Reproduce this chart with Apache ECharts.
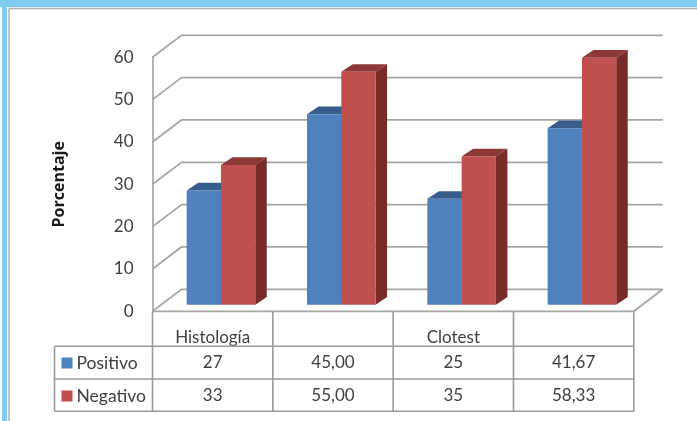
<!DOCTYPE html>
<html>
<head>
<meta charset="utf-8">
<style>
html,body{margin:0;padding:0;background:#fff;}
#chart{width:697px;height:421px;}
</style>
<script src="https://cdn.jsdelivr.net/npm/echarts@6/dist/echarts.min.js"></script>
</head>
<body>
<div id="chart"></div>
<script>
// Data
const categories = ['Histología', '', 'Clotest', ''];
const positivo = [27, 45.00, 25, 41.67];
const negativo = [33, 55.00, 35, 58.33];
const positivoLabels = ['27', '45,00', '25', '41,67'];
const negativoLabels = ['33', '55,00', '35', '58,33'];
const yTicks = [0, 10, 20, 30, 40, 50, 60];

// Oblique projection of the 3D box
const WALL_DX = 29, WALL_DY = -22;      // front plane to back wall
const BAR_DX = 8.3, BAR_DY = -6.6;      // front plane to bar front face
const BAR_DEPTH_X = 11.5, BAR_DEPTH_Y = -7.7;
const BAR_RATIO = 0.285;

const LINE = '#a6a6a6';
const TABLE_LINE = '#9a9a9a';
const TEXT = '#404040';
const FONT = 'Lato, "Open Sans", sans-serif';
const BLUE = {front: '#4f81bd', top: '#385d8a', side: '#2f5078'};
const RED = {front: '#c0504d', top: '#8c3836', side: '#772c2a'};

// Back wall gridlines with their diagonal on the left wall
function renderWall(params, api) {
  const v = api.value(0);
  const cs = params.coordSys;
  const left = api.coord([0, v])[1];
  const x0 = cs.x, x1 = cs.x + cs.width;
  const style = {stroke: LINE, lineWidth: 1.7, fill: null};
  const children = [{
    type: 'polyline',
    shape: {points: [[x0, left], [x0 + WALL_DX, left + WALL_DY], [x1 + WALL_DX, left + WALL_DY]]},
    style
  }];
  if (v === 0) {
    children.push({
      type: 'polyline',
      shape: {points: [[x1 + WALL_DX, left + WALL_DY], [x1, left], [x0, left]]},
      style
    });
  }
  return {type: 'group', children};
}

// Extruded bar: front face, top and side; side is -1 left of the band centre, 0 right of it
function barRenderer(colors, side) {
  return function (params, api) {
    const cat = api.value(0);
    const p = api.coord([cat, api.value(1)]);
    const base = api.coord([cat, 0]);
    const w = api.size([1, 0])[0] * BAR_RATIO;
    const x0 = p[0] + BAR_DX + side * w, x1 = x0 + w;
    const yTop = p[1] + BAR_DY, yBot = base[1] + BAR_DY;
    const dx = BAR_DEPTH_X, dy = BAR_DEPTH_Y;
    return {
      type: 'group',
      children: [
        {type: 'polygon', shape: {points: [[x1, yTop], [x1 + dx, yTop + dy], [x1 + dx, yBot + dy], [x1, yBot]]}, style: {fill: colors.side}},
        {type: 'polygon', shape: {points: [[x0, yTop], [x0 + dx, yTop + dy], [x1 + dx, yTop + dy], [x1, yTop]]}, style: {fill: colors.top}},
        {type: 'rect', shape: {x: x0, y: yTop, width: w, height: yBot - yTop}, style: {fill: colors.front}}
      ]
    };
  };
}

// Data table under the plot
const ROW_BOTTOMS = [346.3, 379, 411.3];
const TABLE_LEFT = 54.5;
function renderTable(params, api) {
  const cs = params.coordSys;
  const x0 = cs.x, x1 = cs.x + cs.width, top = cs.y + cs.height;
  const band = cs.width / categories.length;
  const style = {stroke: TABLE_LINE, lineWidth: 1.6};
  const line = (ax, ay, bx, by) => ({type: 'line', shape: {x1: ax, y1: ay, x2: bx, y2: by}, style});
  const children = [];
  ROW_BOTTOMS.forEach(y => children.push(line(TABLE_LEFT, y, x1, y)));
  for (let i = 0; i <= categories.length; i++) {
    const x = x0 + band * i;
    children.push(line(x, top, x, ROW_BOTTOMS[2]));
  }
  children.push(line(TABLE_LEFT, ROW_BOTTOMS[0], TABLE_LEFT, ROW_BOTTOMS[2]));
  [positivoLabels, negativoLabels].forEach((row, r) => {
    row.forEach((t, i) => {
      children.push({
        type: 'text',
        style: {
          x: api.coord([i, 0])[0], y: (ROW_BOTTOMS[r] + ROW_BOTTOMS[r + 1]) / 2,
          text: t, fill: TEXT, font: '17px ' + FONT, align: 'center', verticalAlign: 'middle'
        }
      });
    });
  });
  return {type: 'group', children};
}

const chart = echarts.init(document.getElementById('chart'), null, {renderer: 'canvas'});
chart.setOption({
  animation: false,
  backgroundColor: '#fff',
  graphic: [
    {type: 'rect', shape: {x: 0, y: 0, width: 697, height: 7}, style: {fill: '#7fcdf0'}, z: 0},
    {type: 'rect', shape: {x: 2, y: 0, width: 5, height: 421}, style: {fill: '#7fcdf0'}, z: 0},
    {type: 'line', shape: {x1: 9, y1: 8.5, x2: 697, y2: 8.5}, style: {stroke: '#b0b0b0', lineWidth: 1.5}, z: 0},
    {type: 'line', shape: {x1: 9, y1: 8.5, x2: 9, y2: 421}, style: {stroke: '#b0b0b0', lineWidth: 1.5}, z: 0}
  ],
  grid: {left: 152.5, top: 57.3, width: 481.3, height: 254},
  legend: {
    orient: 'vertical', left: 56.5, top: 349, itemWidth: 11, itemHeight: 11, itemGap: 15,
    data: [{name: 'Positivo'}, {name: 'Negativo'}],
    selectedMode: false,
    icon: 'rect',
    textStyle: {color: TEXT, fontFamily: FONT, fontSize: 17.5, padding: [0, 0, 0, -1]}
  },
  xAxis: {
    type: 'category', data: categories,
    axisLine: {show: false}, axisTick: {show: false},
    axisLabel: {interval: 0, color: TEXT, fontFamily: FONT, fontSize: 17, margin: 18}
  },
  yAxis: {
    type: 'value', min: 0, max: 60, interval: 10,
    name: 'Porcentaje', nameLocation: 'middle', nameGap: 85, nameRotate: 90,
    nameTextStyle: {color: '#1a1a1a', fontFamily: '"Open Sans", sans-serif', fontSize: 16, fontWeight: 'bold'},
    axisLine: {show: true, lineStyle: {color: LINE, width: 1.7}},
    axisTick: {show: false},
    splitLine: {show: false},
    axisLabel: {color: TEXT, fontFamily: FONT, fontSize: 17, margin: 19}
  },
  series: [
    {type: 'custom', name: 'Muro', silent: true, z: 1, renderItem: renderWall, data: yTicks.map(v => [v]), encode: {y: 0}, clip: false},
    {type: 'custom', name: 'Tabla', silent: true, z: 1, renderItem: renderTable, data: [[0]], clip: false},
    {type: 'custom', name: 'Positivo', z: 2, itemStyle: {color: BLUE.front}, renderItem: barRenderer(BLUE, -1),
      data: positivo.map((v, i) => [i, v]), encode: {x: 0, y: 1}, clip: false},
    {type: 'custom', name: 'Negativo', z: 3, itemStyle: {color: RED.front}, renderItem: barRenderer(RED, 0),
      data: negativo.map((v, i) => [i, v]), encode: {x: 0, y: 1}, clip: false}
  ]
});
</script>
</body>
</html>
